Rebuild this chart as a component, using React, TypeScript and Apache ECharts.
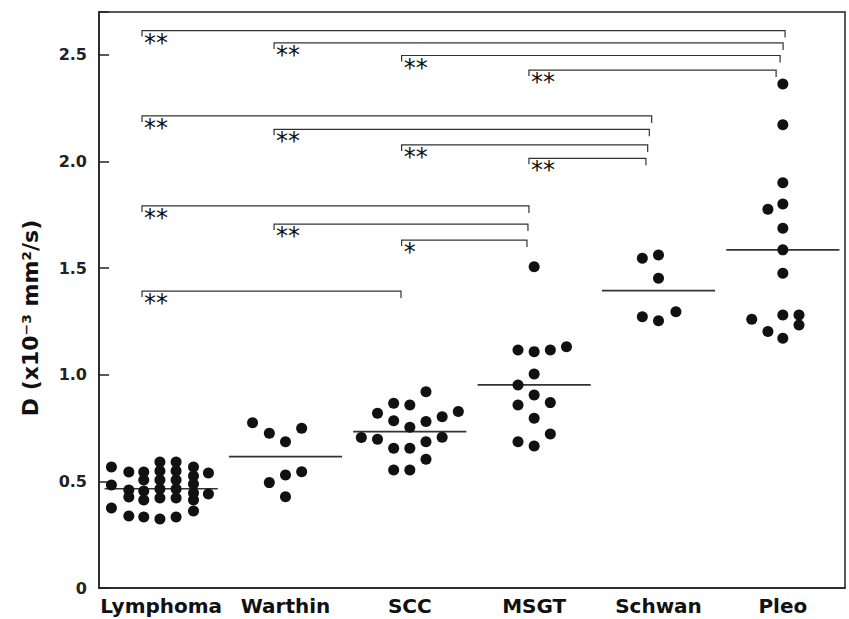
import React, { useEffect, useRef } from "react";
import * as echarts from "echarts";

const categories = ["Lymphoma", "Warthin", "SCC", "MSGT", "Schwan", "Pleo"];

// [horizontal jitter (category units), D value]
const lymphoma = [
  [-0.4, 0.567], [-0.4, 0.483], [-0.4, 0.375],
  [-0.26, 0.544], [-0.26, 0.459], [-0.26, 0.427], [-0.26, 0.338],
  [-0.14, 0.544], [-0.14, 0.506], [-0.14, 0.455], [-0.14, 0.413], [-0.14, 0.333],
  [-0.01, 0.591], [-0.01, 0.549], [-0.01, 0.506], [-0.01, 0.464], [-0.01, 0.422], [-0.01, 0.323],
  [0.12, 0.591], [0.12, 0.549], [0.12, 0.506], [0.12, 0.464], [0.12, 0.422], [0.12, 0.333],
  [0.26, 0.567], [0.26, 0.525], [0.26, 0.488], [0.26, 0.445], [0.26, 0.413], [0.26, 0.361],
  [0.38, 0.539], [0.38, 0.441],
];
const warthin = [
  [-0.265, 0.775], [-0.13, 0.725], [0, 0.686], [0.13, 0.749],
  [-0.13, 0.494], [0, 0.53], [0.13, 0.545], [0, 0.428],
];
const scc = [
  [0.13, 0.92], [-0.13, 0.866], [0, 0.858], [-0.26, 0.819], [0.39, 0.827], [0.26, 0.803],
  [-0.13, 0.784], [0.13, 0.78], [0, 0.753], [-0.39, 0.705], [-0.26, 0.697], [0.26, 0.707],
  [-0.13, 0.655], [0, 0.655], [0.13, 0.686], [0.13, 0.603], [-0.13, 0.553], [0, 0.553],
];
const msgt = [
  [0, 1.506], [-0.13, 1.116], [0, 1.108], [0.13, 1.116], [0.26, 1.131], [0, 1.003],
  [-0.13, 0.952], [0, 0.905], [-0.13, 0.858], [0.13, 0.869], [0, 0.796],
  [-0.13, 0.686], [0, 0.666], [0.13, 0.722],
];
const schwan = [
  [-0.13, 1.546], [0, 1.561], [0, 1.452], [-0.13, 1.272], [0, 1.253], [0.14, 1.295],
];
const pleo = [
  [0, 2.363], [0, 2.171], [0, 1.9], [-0.12, 1.775], [0, 1.8], [0, 1.686], [0, 1.585],
  [0, 1.475], [-0.25, 1.26], [0, 1.28], [0.13, 1.28], [0.13, 1.233], [-0.12, 1.202], [0, 1.171],
];
const groups = [lymphoma, warthin, scc, msgt, schwan, pleo];

const medians = [0.465, 0.616, 0.733, 0.952, 1.394, 1.585];

// significance brackets: [from x, to x, level, label]
const bracketFrom = [-0.154, 0.908, 1.934, 2.958, -0.154, 0.908, 1.934, 2.958, -0.154, 0.908, 1.934, -0.154];
const bracketTo = [5.018, 5.002, 4.978, 4.946, 3.945, 3.926, 3.913, 3.899, 2.958, 2.95, 2.942, 1.929];
const bracketLevel = [2.613, 2.555, 2.496, 2.428, 2.213, 2.15, 2.077, 2.014, 1.791, 1.706, 1.631, 1.392];
const bracketLabel = ["**", "**", "**", "**", "**", "**", "**", "**", "**", "**", "*", "**"];

const yTickValues = [0, 0.5, 1.0, 1.5, 2.0, 2.5];

const FONT = "DejaVu Sans, Verdana, sans-serif";

export default function App() {
  const ref = useRef<HTMLDivElement>(null);

  useEffect(() => {
    if (!ref.current) return;
    const chart = echarts.init(ref.current, undefined, { renderer: "svg" });

    const dots: number[][] = [];
    groups.forEach((g, i) => g.forEach(([dx, v]) => dots.push([i + dx, v])));

    const bracketData = bracketFrom.map((f, i) => [f, bracketTo[i], bracketLevel[i]]);

    const option: any = {
      animation: false,
      backgroundColor: "#fff",
      grid: {
        left: 99,
        right: 4,
        top: 12,
        bottom: 31,
        show: true,
        borderColor: "#222",
        borderWidth: 1.5,
        containLabel: false,
      },
      xAxis: [
        {
          type: "category",
          data: categories,
          boundaryGap: true,
          axisLine: { show: true, onZero: false, lineStyle: { color: "#222", width: 1.5 } },
          axisTick: { show: false },
          axisLabel: {
            interval: 0,
            color: "#111",
            fontFamily: FONT,
            fontWeight: "bold",
            fontSize: 20,
            margin: 8,
          },
          splitLine: { show: false },
        },
        {
          type: "value",
          min: -0.5,
          max: 5.5,
          show: false,
          position: "bottom",
          axisLine: { show: false, onZero: false },
        },
      ],
      yAxis: {
        type: "value",
        min: 0,
        max: 2.7,
        interval: 0.5,
        axisLine: { show: true, onZero: false, lineStyle: { color: "#222", width: 1.5 } },
        axisTick: { show: true, inside: true, length: 10, lineStyle: { color: "#222", width: 1.5 } },
        axisLabel: {
          color: "#222",
          fontFamily: FONT,
          fontWeight: "bold",
          fontSize: 16,
          margin: 12,
          formatter: (v: number) => {
            const hit = yTickValues.find((t) => Math.abs(t - v) < 1e-6);
            if (hit === undefined) return "";
            return hit === 0 ? "0" : hit.toFixed(1);
          },
        },
        splitLine: { show: false },
      },
      graphic: [
        {
          type: "text",
          x: 30,
          y: 318,
          rotation: Math.PI / 2,
          style: {
            text: "D (x10⁻³ mm²/s)",
            fill: "#111",
            font: `bold 22px ${FONT}`,
            textAlign: "center",
            textVerticalAlign: "middle",
          },
        },
      ],
      series: [
        {
          type: "custom",
          xAxisIndex: 1,
          yAxisIndex: 0,
          data: bracketData,
          clip: false,
          z: 2,
          renderItem: (params: any, api: any) => {
            const x1 = api.value(0);
            const x2 = api.value(1);
            const y = api.value(2);
            const p1 = api.coord([x1, y]);
            const p2 = api.coord([x2, y]);
            return {
              type: "group",
              children: [
                {
                  type: "polyline",
                  shape: {
                    points: [
                      [p1[0], p1[1] + 6],
                      [p1[0], p1[1]],
                      [p2[0], p2[1]],
                      [p2[0], p2[1] + 7],
                    ],
                  },
                  style: { stroke: "#333", lineWidth: 1.2, fill: "none" },
                },
                {
                  type: "text",
                  x: p1[0] + 2,
                  y: p1[1] + 12,
                  style: {
                    text: bracketLabel[params.dataIndex],
                    fill: "#111",
                    font: `24px ${FONT}`,
                    textAlign: "left",
                    textVerticalAlign: "middle",
                  },
                },
              ],
            };
          },
        },
        {
          type: "custom",
          xAxisIndex: 1,
          yAxisIndex: 0,
          data: medians.map((m, i) => [i, m]),
          z: 3,
          renderItem: (params: any, api: any) => {
            const i = api.value(0);
            const m = api.value(1);
            const a = api.coord([i - 0.455, m]);
            const b = api.coord([i + 0.455, m]);
            return {
              type: "line",
              shape: { x1: a[0], y1: a[1], x2: b[0], y2: b[1] },
              style: { stroke: "#333", lineWidth: 1.6 },
            };
          },
        },
        {
          type: "scatter",
          xAxisIndex: 1,
          yAxisIndex: 0,
          data: dots,
          symbol: "circle",
          symbolSize: 11,
          itemStyle: { color: "#111", opacity: 1 },
          z: 4,
        },
      ],
    };

    chart.setOption(option);
    return () => chart.dispose();
  }, []);

  return <div ref={ref} style={{ width: 849, height: 619, position: "absolute", left: 0, top: 0 }} />;
}
